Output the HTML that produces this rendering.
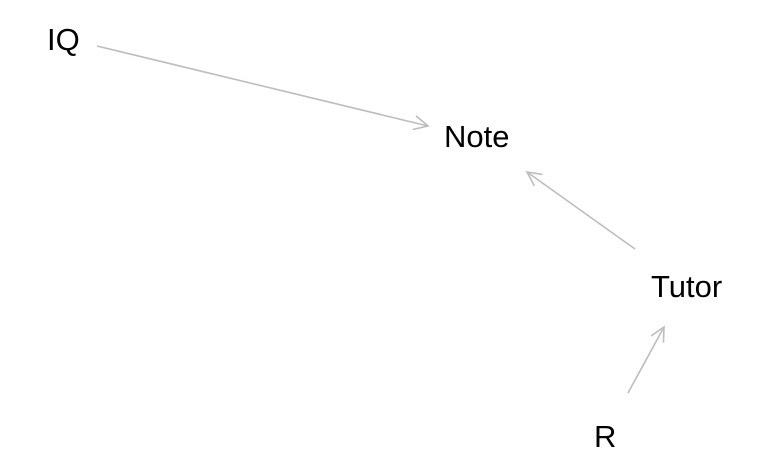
<!DOCTYPE html>
<html><head><style>
html,body{margin:0;padding:0;background:#fff;}
svg{display:block;}
text{font-family:"Liberation Sans",sans-serif;font-size:31px;fill:#000;}
</style></head><body>
<svg width="768" height="474" viewBox="0 0 768 474">
<defs>
<marker id="a" markerWidth="20" markerHeight="20" refX="15" refY="8" orient="auto" markerUnits="userSpaceOnUse">
<path d="M1,1 L15,8 L1,15" fill="none" stroke="#bdbdbd" stroke-width="1.6"/>
</marker>
</defs>
<g stroke="#bdbdbd" stroke-width="1.6" fill="none">
<line x1="97" y1="46" x2="428" y2="126" marker-end="url(#a)"/>
<line x1="635" y1="249" x2="527" y2="172" marker-end="url(#a)"/>
<line x1="628" y1="393" x2="664" y2="327" marker-end="url(#a)"/>
</g>
<text x="47" y="50">IQ</text>
<text x="444" y="147">Note</text>
<text x="651" y="297">Tutor</text>
<text x="594" y="447">R</text>
</svg>
</body></html>
